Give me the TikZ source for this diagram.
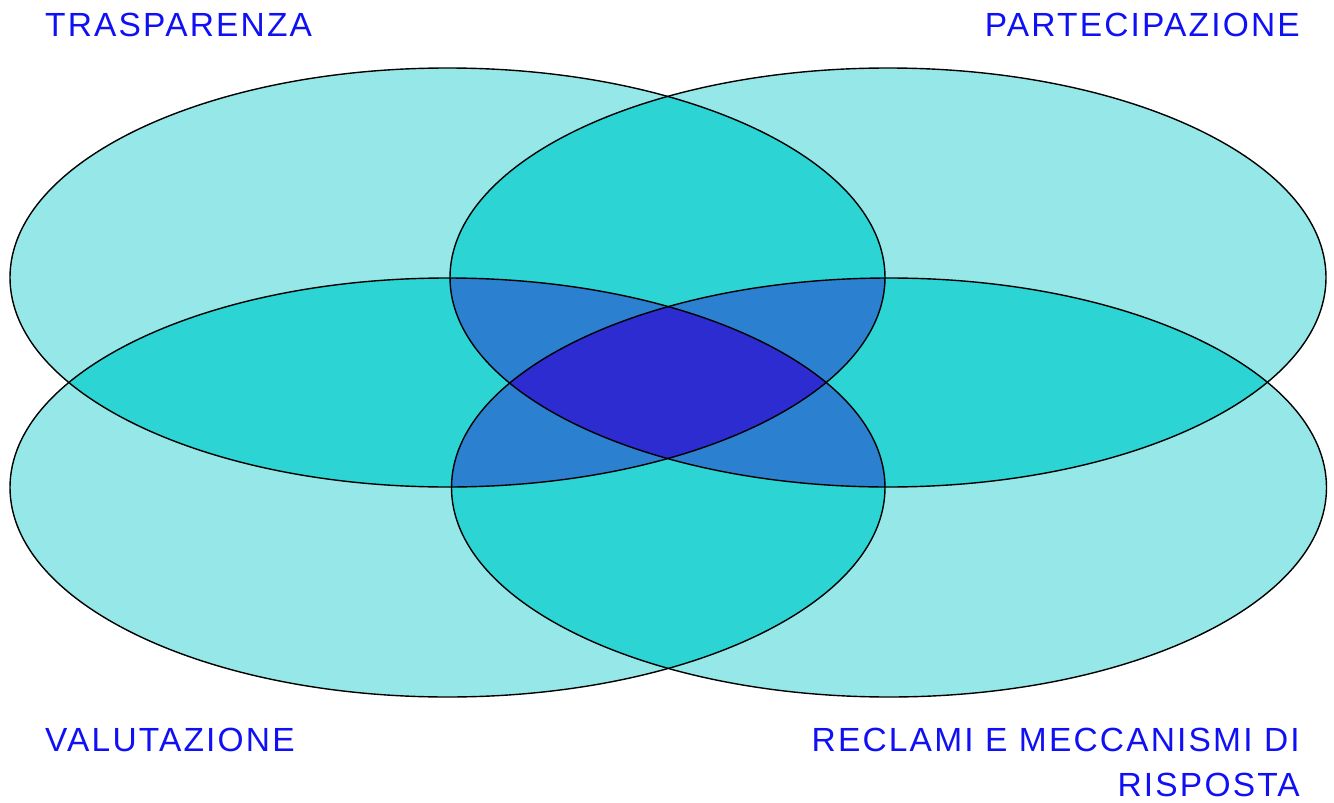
\documentclass[tikz,border=0pt]{standalone}
\usepackage{fontspec}
\usepackage{xcolor}
\usepackage{tikz}
\usetikzlibrary{positioning}
\newfontfamily\labelfont{Liberation Sans}[LetterSpace=6.5]
\definecolor{vennOne}{RGB}{150,232,232}
\definecolor{vennTwo}{RGB}{44,212,212}
\definecolor{vennThree}{RGB}{44,128,208}
\definecolor{vennFour}{RGB}{44,44,208}
\definecolor{labelBlue}{RGB}{16,16,245}
% the four ellipses
\newcommand\ellTL{(447.5,277.5) ellipse [x radius=437.5pt, y radius=209.5pt]}
\newcommand\ellTR{(888,277.5) ellipse [x radius=438pt, y radius=209.5pt]}
\newcommand\ellBL{(447.5,487.5) ellipse [x radius=437.5pt, y radius=209.5pt]}
\newcommand\ellBR{(889,487.5) ellipse [x radius=437.5pt, y radius=209.5pt]}

\begin{document}
\begin{tikzpicture}[x=1pt, y=-1pt,
  outline/.style={draw=black, line width=1.4pt},
  lbl/.style={text=labelBlue, inner sep=0pt, font=\labelfont\fontsize{33.5}{45}\selectfont}]
\useasboundingbox (0,0) rectangle (1334,803);
% one ellipse
\fill[vennOne] \ellTL;
\fill[vennOne] \ellTR;
\fill[vennOne] \ellBL;
\fill[vennOne] \ellBR;
% two ellipses
\begin{scope}
  \clip \ellTL;
  \fill[vennTwo] \ellTR;
  \fill[vennTwo] \ellBL;
  \fill[vennTwo] \ellBR;
\end{scope}
\begin{scope}
  \clip \ellTR;
  \fill[vennTwo] \ellBL;
  \fill[vennTwo] \ellBR;
\end{scope}
\begin{scope}
  \clip \ellBL;
  \fill[vennTwo] \ellBR;
\end{scope}
% three ellipses
\begin{scope}
  \clip \ellTL; \clip \ellTR;
  \fill[vennThree] \ellBL;
  \fill[vennThree] \ellBR;
\end{scope}
\begin{scope}
  \clip \ellBL; \clip \ellBR;
  \fill[vennThree] \ellTL;
  \fill[vennThree] \ellTR;
\end{scope}
% all four
\begin{scope}
  \clip \ellTL; \clip \ellTR; \clip \ellBL;
  \fill[vennFour] \ellBR;
\end{scope}
\path[outline] \ellTL;
\path[outline] \ellTR;
\path[outline] \ellBL;
\path[outline] \ellBR;
% labels
\node[lbl, anchor=north west] (trasp) at (45,13) {TRASPARENZA};
\node[lbl, anchor=north east] (partec) at (1300,13) {PARTECIPAZIONE};
\node[lbl, anchor=north west] (valut) at (45,728) {VALUTAZIONE};
\node[lbl, anchor=north east, align=right] (reclami) at (1300,728) {RECLAMI E MECCANISMI DI\\RISPOSTA};
\end{tikzpicture}
\end{document}
